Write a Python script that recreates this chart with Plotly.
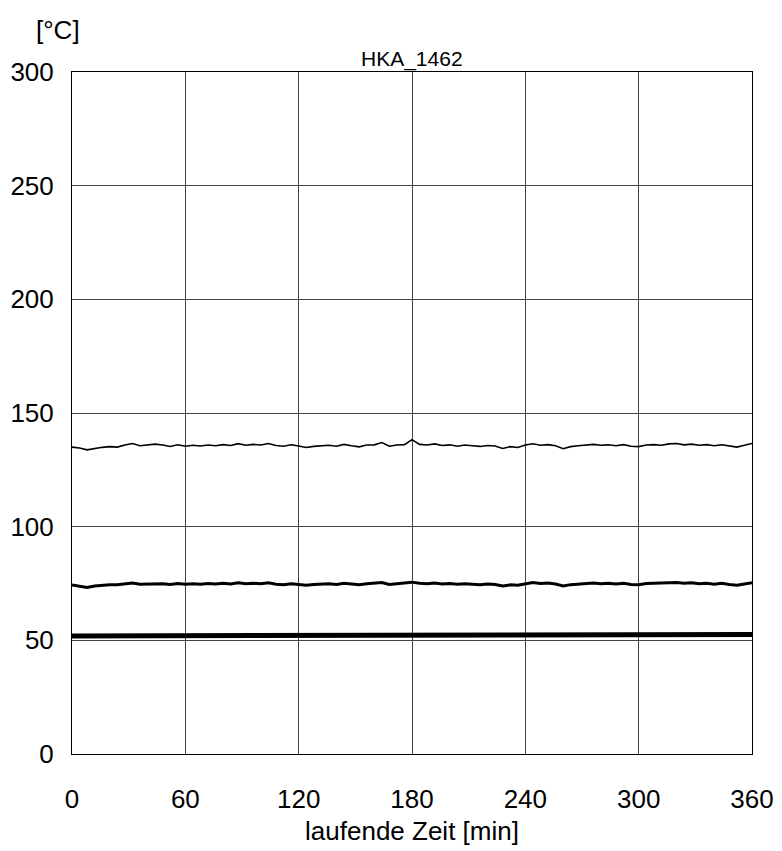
import plotly.graph_objects as go

# time axis (minutes) for the sampled curves
t_min = list(range(0, 361, 4))

# upper curve [°C]
temp_upper = [
    135.0, 134.6, 133.8, 134.5, 134.9, 135.2, 135.0, 135.9, 136.6, 135.6,
    135.8, 136.3, 135.9, 135.3, 136.0, 135.4, 135.8, 135.5, 135.9, 135.6,
    136.1, 135.7, 136.5, 135.8, 136.2, 135.9, 136.6, 135.7, 135.4, 136.0,
    135.5, 134.8, 135.3, 135.6, 135.8, 135.4, 136.2, 135.6, 135.1, 135.9,
    136.0, 137.0, 135.4, 135.9, 136.1, 138.3, 136.2, 135.9, 136.4, 135.7,
    136.0, 135.4, 135.9, 135.6, 135.3, 135.7, 135.5, 134.4, 135.2, 134.8,
    135.9, 136.5, 135.8, 136.1, 135.6, 134.3, 135.2, 135.6, 136.0, 136.2,
    135.8, 136.0, 135.6, 136.1, 135.4, 135.2, 135.9, 136.1, 135.8, 136.4,
    136.6, 136.0, 136.3, 135.8, 136.1, 135.6, 136.0, 135.4, 135.0, 135.8,
    136.6,
]

# middle curve [°C]
temp_middle = [
    74.4, 74.0, 73.3, 73.9, 74.2, 74.5, 74.4, 74.9, 75.2, 74.7,
    74.8, 75.1, 74.9, 74.6, 75.0, 74.7, 74.9, 74.7, 75.0, 74.8,
    75.1, 74.8, 75.3, 74.9, 75.1, 74.9, 75.3, 74.7, 74.5, 74.9,
    74.6, 74.2, 74.6, 74.8, 74.9, 74.6, 75.1, 74.8, 74.5, 74.9,
    75.0, 75.4, 74.6, 74.9, 75.1, 75.6, 75.1, 74.9, 75.2, 74.8,
    75.0, 74.7, 74.9, 74.7, 74.5, 74.8, 74.6, 73.9, 74.4, 74.2,
    74.9, 75.4, 75.0, 75.2, 74.8, 73.9, 74.5, 74.8, 75.0, 75.2,
    74.9, 75.1, 74.8, 75.1, 74.6, 74.5, 75.0, 75.1, 75.0, 75.3,
    75.4, 75.1, 75.3, 74.9, 75.1, 74.7, 75.1, 74.6, 74.2, 74.8,
    75.3,
]

# lower curve [°C]
t_lower = [0, 30, 60, 90, 120, 150, 180, 210, 240, 270, 300, 330, 360]
temp_lower = [51.9, 52.0, 52.0, 52.1, 52.1, 52.2, 52.2, 52.3, 52.3, 52.4, 52.5, 52.5, 52.6]

x_ticks = [0, 60, 120, 180, 240, 300, 360]
y_ticks = [0, 50, 100, 150, 200, 250, 300]

FONT = "Liberation Sans, Arial, sans-serif"

fig = go.Figure()
fig.add_trace(go.Scatter(x=t_min, y=temp_upper, mode="lines",
                         line=dict(color="black", width=1.6), showlegend=False))
fig.add_trace(go.Scatter(x=t_min, y=temp_middle, mode="lines",
                         line=dict(color="black", width=3), showlegend=False))
fig.add_trace(go.Scatter(x=t_lower, y=temp_lower, mode="lines",
                         line=dict(color="black", width=5), showlegend=False))

fig.update_layout(
    width=774, height=843,
    margin=dict(l=64, r=30, t=64, b=97),
    paper_bgcolor="white", plot_bgcolor="white",
    font=dict(family=FONT, color="black", size=26),
    annotations=[
        dict(text="[°C]", xref="paper", yref="paper", x=-0.0206, y=1.0616,
             xanchor="center", yanchor="middle", showarrow=False,
             font=dict(size=26, family=FONT, color="black")),
        dict(text="HKA_1462", xref="paper", yref="paper", x=0.5, y=1.0,
             xanchor="center", yanchor="bottom", yshift=-1, showarrow=False,
             font=dict(size=21, family=FONT, color="black")),
    ],
)

fig.update_xaxes(
    range=[0, 360], tickvals=x_ticks, ticktext=[str(v) for v in x_ticks],
    showgrid=True, gridcolor="#444444", gridwidth=1,
    showline=True, linecolor="black", linewidth=1, mirror=True,
    zeroline=False, ticks="", ticklabelstandoff=22, automargin=False,
    tickfont=dict(size=26, family=FONT, color="black"),
    title=dict(text="laufende Zeit [min]", standoff=8,
               font=dict(size=26, family=FONT, color="black")),
)
fig.update_yaxes(
    range=[0, 300], tickvals=y_ticks, ticktext=[str(v) for v in y_ticks],
    showgrid=True, gridcolor="#444444", gridwidth=1,
    showline=True, linecolor="black", linewidth=1, mirror=True,
    zeroline=False, ticks="", ticklabelstandoff=12, automargin=False,
    tickfont=dict(size=26, family=FONT, color="black"),
)

fig.write_html("out.html")
